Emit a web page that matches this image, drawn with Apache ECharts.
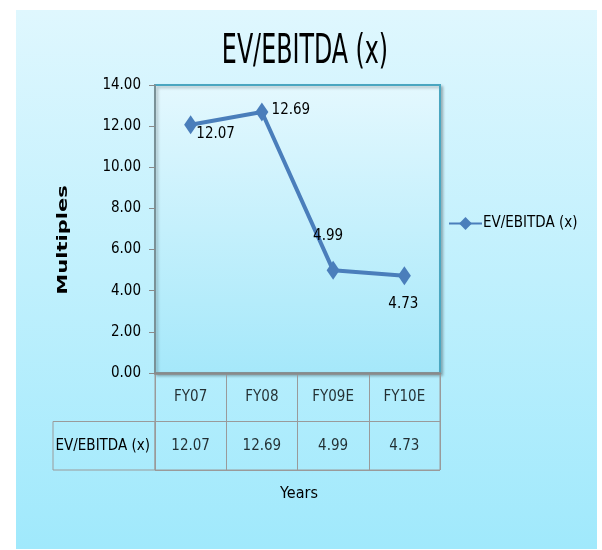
<!DOCTYPE html>
<html>
<head>
<meta charset="utf-8">
<script src="https://cdn.jsdelivr.net/npm/echarts@6/dist/echarts.min.js"></script>
<style>
html,body{margin:0;padding:0;background:#fff;}
#chart{width:602px;height:550px;}
</style>
</head>
<body>
<div id="chart"></div>
<script>
// data
var categories = ['FY07', 'FY08', 'FY09E', 'FY10E'];
var evEbitda = [12.07, 12.69, 4.99, 4.73];
var seriesName = 'EV/EBITDA (x)';
var yTicks = [0, 2, 4, 6, 8, 10, 12, 14];

var FONT = "'DejaVu Sans Condensed', sans-serif";
var labelOffsets = [[25, 9], [29, -2], [-5, -34], [-1, 28]];

function createChart(){
    var myChart = echarts.init(document.getElementById('chart'));

    var lineData = [];
    var tableData = [];
    for(var i=0;i<categories.length;i++){
        lineData.push({
            value: evEbitda[i],
            label: {offset: labelOffsets[i]}
        });
        tableData.push([i, 0, categories[i]]);
        tableData.push([i, 1, evEbitda[i].toFixed(2)]);
    }

    var option = {
        backgroundColor: '#fff',
        animation: false,
        legend: {
            data: [seriesName],
            left: 443,
            top: 211,
            itemWidth: 33,
            itemHeight: 16,
            textStyle: {fontFamily: FONT, fontSize: 15, color: '#000', padding: [0, 0, 0, -4]}
        },
        graphic: [
            {
                type: 'rect', z: -10, silent: true,
                shape: {x: 16, y: 10, width: 581, height: 539},
                style: {fill: new echarts.graphic.LinearGradient(0, 0, 0, 1, [
                    {offset: 0, color: '#dff7fe'},
                    {offset: 1, color: '#a0e9fc'}
                ])}
            },
            {
                // chart title, squeezed sideways like the original
                type: 'text', silent: true,
                x: 305, y: 53, scaleX: 0.66,
                style: {text: 'EV/EBITDA (x)', fontFamily: FONT, fontSize: 40,
                        fill: '#000', align: 'center', verticalAlign: 'middle'}
            },
            {
                type: 'rect', silent: true,
                shape: {x: 53, y: 421.5, width: 102, height: 48.5},
                style: {fill: 'none', stroke: '#9a9a9a', lineWidth: 1}
            },
            {
                type: 'text', silent: true,
                x: 63, y: 240, rotation: Math.PI / 2, scaleX: 1.5,
                style: {text: 'Multiples', fontFamily: 'DejaVu Sans', fontWeight: 'bold', fontSize: 14,
                        fill: '#000', align: 'center', verticalAlign: 'middle'}
            },
            {
                type: 'text', silent: true,
                x: 299, y: 494,
                style: {text: 'Years', fontFamily: FONT, fontSize: 16, fill: '#000',
                        align: 'center', verticalAlign: 'middle'}
            }
        ],
        grid: [
            {
                left: 155, top: 85, width: 285, height: 288,
                show: true,
                borderColor: '#4aa6c0', borderWidth: 2,
                shadowColor: 'rgba(0,0,0,0.25)', shadowBlur: 3, shadowOffsetX: 2, shadowOffsetY: 2,
                backgroundColor: new echarts.graphic.LinearGradient(0, 0, 0, 1, [
                    {offset: 0, color: '#e4f8fe'},
                    {offset: 1, color: '#a5e8fa'}
                ])
            },
            {
                left: 155, top: 373, width: 285, height: 97,
                show: true, borderColor: '#9a9a9a', borderWidth: 1
            }
        ],
        xAxis: [
            {
                type: 'category', gridIndex: 0,
                data: categories,
                boundaryGap: true,
                axisLine: {lineStyle: {color: '#8a8a8a', width: 2.5}},
                axisTick: {show: false},
                axisLabel: {show: false}
            },
            {
                type: 'category', gridIndex: 1,
                data: categories,
                boundaryGap: true,
                axisLine: {show: false},
                axisTick: {show: false},
                axisLabel: {show: false},
                splitLine: {show: true, lineStyle: {color: '#9a9a9a', width: 1}}
            }
        ],
        yAxis: [
            {
                type: 'value', gridIndex: 0,
                min: yTicks[0], max: yTicks[yTicks.length - 1], interval: 2,
                axisLine: {show: true, lineStyle: {color: '#8a8a8a', width: 1.5}},
                axisTick: {show: true, length: 6, lineStyle: {color: '#8a8a8a'}},
                splitLine: {show: false},
                axisLabel: {
                    fontFamily: FONT, fontSize: 15, color: '#000', margin: 14,
                    formatter: function(v){ return v.toFixed(2); }
                }
            },
            {
                type: 'category', gridIndex: 1,
                data: ['head', 'val'],
                inverse: true,
                axisLine: {show: false},
                axisTick: {show: false},
                splitLine: {show: true, lineStyle: {color: '#9a9a9a', width: 1}},
                axisLabel: {
                    fontFamily: FONT, fontSize: 15, color: '#000', margin: 5,
                    formatter: function(v){ return v == 'val' ? seriesName : ''; }
                }
            }
        ],
        series: [
            {
                name: seriesName,
                type: 'line',
                xAxisIndex: 0, yAxisIndex: 0,
                data: lineData,
                symbol: 'diamond',
                symbolSize: [13, 19],
                itemStyle: {color: '#4a7ebb'},
                lineStyle: {color: '#4a7ebb', width: 4},
                label: {
                    show: true,
                    position: 'inside',
                    fontFamily: FONT, fontSize: 15, color: '#000',
                    formatter: function(p){ return evEbitda[p.dataIndex].toFixed(2); }
                }
            },
            {
                name: 'table',
                type: 'scatter',
                xAxisIndex: 1, yAxisIndex: 1,
                data: tableData,
                symbolSize: 0,
                silent: true,
                label: {
                    show: true,
                    position: 'inside',
                    fontFamily: FONT, fontSize: 15, color: '#000',
                    formatter: function(p){ return p.data[2]; }
                }
            }
        ]
    };
    myChart.setOption(option);
}

createChart();
</script>
</body>
</html>
